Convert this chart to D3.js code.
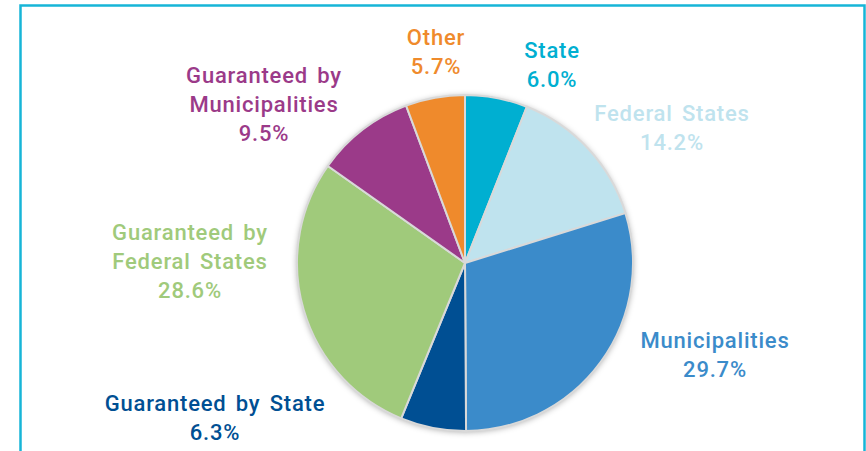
<!DOCTYPE html>
<html>
<head>
<meta charset="utf-8">
<script src="https://cdn.jsdelivr.net/npm/d3@7"></script>
<style>
  body { margin: 0; background: #fff; }
  svg { display: block; }
  text { font-family: Roboto, 'Open Sans', sans-serif; font-weight: 500; }
</style>
</head>
<body>
<div id="chart"></div>
<script>
// slices, clockwise from 12 o'clock
const names = ['State', 'Federal States', 'Municipalities', 'Guaranteed by State',
  'Guaranteed by Federal States', 'Guaranteed by Municipalities', 'Other'];
const shares = [6.0, 14.2, 29.7, 6.3, 28.6, 9.5, 5.7];
const colors = ['#00afd1', '#bfe3ee', '#3b8bca', '#004f93', '#a0ca7b', '#9b3a89', '#ef8a2c'];

// label lines for each slice
const labelLines = [
  ['State', '6.0%'],
  ['Federal States', '14.2%'],
  ['Municipalities', '29.7%'],
  ['Guaranteed by State', '6.3%'],
  ['Guaranteed by', 'Federal States', '28.6%'],
  ['Guaranteed by', 'Municipalities', '9.5%'],
  ['Other', '5.7%']
];

const width = 866, height = 451;
const cx = 465, cy = 263, radius = 168;

// where each label block sits (center x, first baseline y)
const labelAt = [
  [552, 58], [672, 121], [715, 348], [215, 411], [190, 240], [264, 83], [436, 45]
];

const svg = d3.select('#chart')
  .append('svg')
  .attr('width', width)
  .attr('height', height);

const defs = svg.append('defs');
const shadow = defs.append('filter').attr('id', 'shadow')
  .attr('x', '-20%').attr('y', '-20%').attr('width', '140%').attr('height', '140%');
shadow.append('feDropShadow')
  .attr('dx', 0).attr('dy', 1)
  .attr('stdDeviation', 3)
  .attr('flood-color', '#000')
  .attr('flood-opacity', 0.35);

// frame
svg.append('rect')
  .attr('x', 20.5).attr('y', 5.5)
  .attr('width', 844).attr('height', 460)
  .attr('fill', 'none')
  .attr('stroke', '#17b5d7')
  .attr('stroke-width', 2.5);

const data = names.map((n, i) => ({ name: n, value: shares[i], color: colors[i], lines: labelLines[i], at: labelAt[i] }));

const pie = d3.pie().sort(null).value((d) => d.value);
const arc = d3.arc().innerRadius(0).outerRadius(radius);

const g = svg.append('g').attr('transform', `translate(${cx},${cy})`);

g.append('circle')
  .attr('r', radius)
  .attr('fill', '#fff')
  .attr('filter', 'url(#shadow)');

g.selectAll('path')
  .data(pie(data))
  .enter()
  .append('path')
  .attr('d', arc)
  .attr('fill', (d) => d.data.color)
  .attr('stroke', '#d9d9d9')
  .attr('stroke-width', 2)
  .attr('stroke-linejoin', 'round');

const labels = svg.selectAll('text.label')
  .data(data)
  .enter()
  .append('text')
  .attr('class', 'label')
  .attr('text-anchor', 'middle')
  .attr('font-size', 22)
  .attr('letter-spacing', 0.8)
  .attr('word-spacing', 3)
  .attr('fill', (d) => d.color);

labels.selectAll('tspan')
  .data((d) => d.lines.map((l) => ({ line: l, at: d.at })))
  .enter()
  .append('tspan')
  .attr('x', (d) => d.at[0])
  .attr('y', (d, i) => d.at[1] + i * 29)
  .text((d) => d.line);
</script>
</body>
</html>
